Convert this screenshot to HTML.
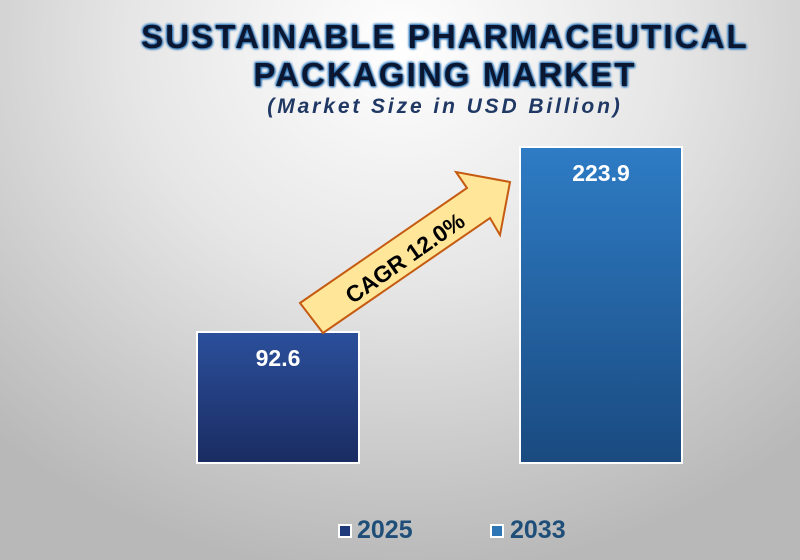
<!DOCTYPE html>
<html><head><meta charset="utf-8"><style>
html,body{margin:0;padding:0}
body{width:800px;height:560px;overflow:hidden;position:relative;font-family:"Liberation Sans",Arial,sans-serif;
background:radial-gradient(ellipse 75% 95% at 50% 8%,#ffffff 0%,#e6e6e6 45%,#c4c4c4 85%,#b8b8b8 100%)}
.t{position:absolute;left:0;width:890px;text-align:center;font-weight:bold;color:#0b1630;letter-spacing:2.1px;font-size:33px;
text-shadow:0 0 2px #2e75b6,0 0 3px #2e75b6,1px 1px 2px #2e75b6,-1px -1px 2px #5b9bd5}
.s{position:absolute;left:0;width:890px;text-align:center;font-weight:bold;font-style:italic;color:#1f3864;font-size:21px;letter-spacing:2.9px;top:95px}
.bar{position:absolute;box-sizing:border-box;border:2px solid #fff}
.lbl{position:absolute;width:100%;text-align:center;color:#fff;font-weight:bold;font-size:23px;top:12px}
.lg{position:absolute;top:516px;font-weight:bold;font-size:25px;color:#1f4e79}
.sq{position:absolute;top:524px;width:14px;height:14px;box-sizing:border-box;border:2px solid #fff}
</style></head><body>
<div class="t" style="top:18px">SUSTAINABLE PHARMACEUTICAL</div>
<div class="t" style="top:56px">PACKAGING MARKET</div>
<div class="s">(Market Size in USD Billion)</div>
<div class="bar" style="left:196px;top:331px;width:164px;height:133px;background:linear-gradient(#2b4f9b,#1a2c62)"><div class="lbl">92.6</div></div>
<div class="bar" style="left:519px;top:146px;width:164px;height:318px;background:linear-gradient(#2e7cc5,#1a4a80)"><div class="lbl">223.9</div></div>
<svg style="position:absolute;left:0;top:0" width="800" height="560">
<polygon points="300,303 467,188 456,172 510,182 500,235 490,218 323,333" fill="#ffe699" stroke="#c55a11" stroke-width="2" stroke-linejoin="miter"/>
<text x="405" y="266" transform="rotate(-35 405 258)" text-anchor="middle" font-family="Liberation Sans,Arial,sans-serif" font-weight="bold" font-size="23" fill="#000">CAGR 12.0%</text>
</svg>
<div class="sq" style="left:338px;background:#1f3a7a"></div>
<div class="lg" style="left:357px">2025</div>
<div class="sq" style="left:490px;background:#2e75b6"></div>
<div class="lg" style="left:510px">2033</div>
</body></html>
